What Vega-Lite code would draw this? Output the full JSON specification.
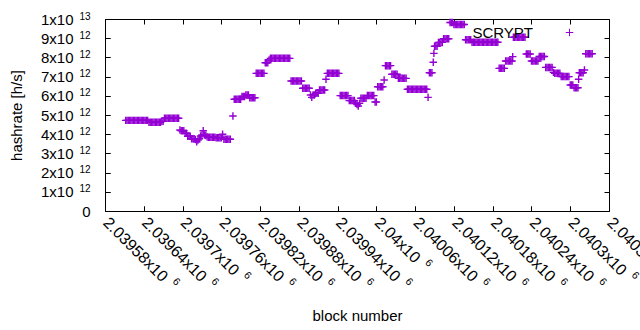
{
 "$schema": "https://vega.github.io/schema/vega-lite/v6.json",
 "width": 504, "height": 192,
 "autosize": "none",
 "padding": {"left": 105, "top": 19, "right": 31, "bottom": 119},
 "background": "white",
 "config": {
  "font": "Liberation Sans",
  "view": {"stroke": "black", "strokeWidth": 1},
  "axis": {"grid": false, "domain": false, "labelFontSize": 15, "titleFontSize": 15, "titleFontWeight": "normal", "labelColor": "black", "titleColor": "black", "tickColor": "black", "labelFont": "Liberation Sans", "titleFont": "Liberation Sans"},
  "legend": {"labelFont": "Liberation Sans"}
 },
 "data": {"values": [
  {"b":2039612,"h":4.72e12},{"b":2039614,"h":4.72e12},{"b":2039616,"h":4.72e12},{"b":2039618,"h":4.72e12},{"b":2039620,"h":4.72e12},{"b":2039622,"h":4.72e12},{"b":2039624,"h":4.72e12},{"b":2039626,"h":4.72e12},{"b":2039628,"h":4.72e12},{"b":2039630,"h":4.72e12},{"b":2039632,"h":4.72e12},{"b":2039634,"h":4.72e12},{"b":2039636,"h":4.72e12},{"b":2039638,"h":4.72e12},{"b":2039640,"h":4.72e12},{"b":2039642,"h":4.72e12},{"b":2039644,"h":4.72e12},{"b":2039646,"h":4.72e12},
  {"b":2039648,"h":4.62e12},{"b":2039650,"h":4.62e12},{"b":2039652,"h":4.62e12},{"b":2039654,"h":4.62e12},{"b":2039656,"h":4.62e12},{"b":2039658,"h":4.62e12},{"b":2039660,"h":4.62e12},{"b":2039662,"h":4.62e12},{"b":2039664,"h":4.62e12},{"b":2039666,"h":4.62e12},
  {"b":2039668,"h":4.67e12},{"b":2039670,"h":4.67e12},
  {"b":2039672,"h":4.83e12},{"b":2039674,"h":4.83e12},{"b":2039676,"h":4.83e12},{"b":2039678,"h":4.83e12},{"b":2039680,"h":4.83e12},{"b":2039682,"h":4.83e12},{"b":2039684,"h":4.83e12},{"b":2039686,"h":4.83e12},{"b":2039688,"h":4.83e12},{"b":2039690,"h":4.83e12},{"b":2039692,"h":4.83e12},{"b":2039694,"h":4.83e12},
  {"b":2039696,"h":4.22e12},{"b":2039698,"h":4.18e12},{"b":2039700,"h":4.18e12},{"b":2039702,"h":4.18e12},{"b":2039704,"h":4.05e12},{"b":2039706,"h":4.05e12},{"b":2039708,"h":3.89e12},{"b":2039710,"h":3.89e12},{"b":2039712,"h":3.89e12},{"b":2039714,"h":3.76e12},{"b":2039716,"h":3.76e12},{"b":2039718,"h":3.76e12},{"b":2039720,"h":3.72e12},{"b":2039722,"h":3.61e12},{"b":2039724,"h":3.70e12},{"b":2039726,"h":3.76e12},{"b":2039728,"h":3.91e12},{"b":2039730,"h":3.96e12},{"b":2039732,"h":4.18e12},{"b":2039734,"h":3.96e12},{"b":2039736,"h":3.93e12},{"b":2039738,"h":3.87e12},{"b":2039740,"h":3.84e12},{"b":2039742,"h":3.84e12},{"b":2039744,"h":3.84e12},{"b":2039746,"h":3.84e12},{"b":2039748,"h":3.84e12},{"b":2039750,"h":3.84e12},{"b":2039752,"h":3.81e12},{"b":2039754,"h":3.81e12},{"b":2039756,"h":3.81e12},{"b":2039758,"h":3.81e12},{"b":2039760,"h":3.81e12},{"b":2039762,"h":4.00e12},{"b":2039764,"h":3.74e12},{"b":2039766,"h":3.74e12},{"b":2039768,"h":3.74e12},{"b":2039770,"h":3.74e12},{"b":2039772,"h":3.74e12},{"b":2039774,"h":3.74e12},
  {"b":2039778,"h":4.95e12},
  {"b":2039780,"h":5.82e12},{"b":2039782,"h":5.82e12},{"b":2039784,"h":5.82e12},{"b":2039786,"h":5.82e12},{"b":2039788,"h":5.82e12},{"b":2039790,"h":5.82e12},
  {"b":2039792,"h":5.96e12},{"b":2039794,"h":5.96e12},{"b":2039796,"h":5.96e12},
  {"b":2039798,"h":6.04e12},{"b":2039800,"h":6.04e12},{"b":2039802,"h":6.04e12},
  {"b":2039804,"h":5.90e12},{"b":2039806,"h":5.90e12},{"b":2039808,"h":5.90e12},{"b":2039810,"h":5.90e12},{"b":2039812,"h":5.90e12},
  {"b":2039814,"h":7.17e12},{"b":2039816,"h":7.17e12},{"b":2039818,"h":7.17e12},{"b":2039820,"h":7.17e12},{"b":2039822,"h":7.17e12},{"b":2039824,"h":7.17e12},{"b":2039826,"h":7.17e12},
  {"b":2039828,"h":7.72e12},{"b":2039830,"h":7.72e12},{"b":2039832,"h":7.72e12},{"b":2039834,"h":7.86e12},
  {"b":2039836,"h":7.95e12},{"b":2039838,"h":7.95e12},{"b":2039840,"h":7.95e12},{"b":2039842,"h":7.95e12},{"b":2039844,"h":7.95e12},{"b":2039846,"h":7.95e12},{"b":2039848,"h":7.95e12},{"b":2039850,"h":7.95e12},{"b":2039852,"h":7.95e12},{"b":2039854,"h":7.95e12},{"b":2039856,"h":7.95e12},{"b":2039858,"h":7.95e12},{"b":2039860,"h":7.95e12},{"b":2039862,"h":7.95e12},{"b":2039864,"h":7.95e12},{"b":2039866,"h":7.95e12},
  {"b":2039868,"h":6.77e12},{"b":2039870,"h":6.77e12},{"b":2039872,"h":6.77e12},{"b":2039874,"h":6.77e12},{"b":2039876,"h":6.77e12},{"b":2039878,"h":6.77e12},{"b":2039880,"h":6.77e12},{"b":2039882,"h":6.77e12},{"b":2039884,"h":6.77e12},
  {"b":2039886,"h":6.39e12},{"b":2039888,"h":6.39e12},{"b":2039890,"h":6.39e12},{"b":2039892,"h":6.39e12},{"b":2039894,"h":6.39e12},{"b":2039896,"h":6.39e12},
  {"b":2039898,"h":6.04e12},{"b":2039900,"h":5.92e12},{"b":2039902,"h":6.04e12},{"b":2039904,"h":6.04e12},
  {"b":2039906,"h":6.13e12},{"b":2039908,"h":6.13e12},{"b":2039910,"h":6.13e12},
  {"b":2039912,"h":6.30e12},{"b":2039914,"h":6.30e12},{"b":2039916,"h":6.30e12},{"b":2039918,"h":6.30e12},{"b":2039920,"h":6.30e12},
  {"b":2039922,"h":6.86e12},
  {"b":2039924,"h":7.17e12},{"b":2039926,"h":7.17e12},{"b":2039928,"h":7.17e12},{"b":2039930,"h":7.17e12},{"b":2039932,"h":7.17e12},{"b":2039934,"h":7.17e12},{"b":2039936,"h":7.17e12},{"b":2039938,"h":7.17e12},{"b":2039940,"h":7.17e12},{"b":2039942,"h":7.17e12},
  {"b":2039944,"h":6.01e12},{"b":2039946,"h":6.01e12},{"b":2039948,"h":6.01e12},{"b":2039950,"h":6.01e12},{"b":2039952,"h":6.01e12},{"b":2039954,"h":6.01e12},{"b":2039956,"h":6.01e12},
  {"b":2039958,"h":5.75e12},{"b":2039960,"h":5.75e12},{"b":2039962,"h":5.75e12},{"b":2039964,"h":5.75e12},{"b":2039966,"h":5.75e12},
  {"b":2039968,"h":5.61e12},{"b":2039970,"h":5.55e12},{"b":2039972,"h":5.47e12},{"b":2039974,"h":5.61e12},
  {"b":2039976,"h":5.87e12},{"b":2039978,"h":5.87e12},{"b":2039980,"h":5.87e12},{"b":2039982,"h":5.87e12},{"b":2039984,"h":5.87e12},
  {"b":2039986,"h":6.01e12},{"b":2039988,"h":6.01e12},{"b":2039990,"h":6.01e12},{"b":2039992,"h":6.01e12},{"b":2039994,"h":6.01e12},{"b":2039996,"h":6.01e12},
  {"b":2039998,"h":5.68e12},{"b":2040000,"h":5.68e12},
  {"b":2040002,"h":6.47e12},{"b":2040004,"h":6.47e12},{"b":2040006,"h":6.47e12},{"b":2040008,"h":6.47e12},{"b":2040010,"h":6.47e12},
  {"b":2040012,"h":6.82e12},
  {"b":2040014,"h":7.57e12},{"b":2040016,"h":7.57e12},{"b":2040018,"h":7.57e12},{"b":2040020,"h":7.57e12},{"b":2040022,"h":7.57e12},
  {"b":2040024,"h":7.12e12},{"b":2040026,"h":7.12e12},{"b":2040028,"h":7.12e12},{"b":2040030,"h":7.12e12},{"b":2040032,"h":7.12e12},
  {"b":2040034,"h":6.91e12},{"b":2040036,"h":6.91e12},{"b":2040038,"h":6.91e12},{"b":2040040,"h":6.91e12},{"b":2040042,"h":6.91e12},{"b":2040044,"h":6.91e12},{"b":2040046,"h":6.91e12},
  {"b":2040048,"h":6.34e12},{"b":2040050,"h":6.34e12},{"b":2040052,"h":6.34e12},{"b":2040054,"h":6.34e12},{"b":2040056,"h":6.34e12},{"b":2040058,"h":6.34e12},{"b":2040060,"h":6.34e12},{"b":2040062,"h":6.34e12},{"b":2040064,"h":6.34e12},{"b":2040066,"h":6.34e12},{"b":2040068,"h":6.34e12},{"b":2040070,"h":6.34e12},{"b":2040072,"h":6.34e12},{"b":2040074,"h":6.34e12},{"b":2040076,"h":6.34e12},{"b":2040078,"h":6.34e12},
  {"b":2040080,"h":5.92e12},
  {"b":2040082,"h":7.20e12},{"b":2040084,"h":7.20e12},{"b":2040086,"h":7.20e12},
  {"b":2040088,"h":7.75e12},{"b":2040089,"h":8.21e12},
  {"b":2040090,"h":8.58e12},{"b":2040092,"h":8.58e12},{"b":2040094,"h":8.58e12},
  {"b":2040096,"h":8.78e12},{"b":2040098,"h":8.78e12},{"b":2040100,"h":8.78e12},{"b":2040102,"h":8.78e12},
  {"b":2040104,"h":8.97e12},{"b":2040106,"h":8.97e12},{"b":2040108,"h":8.97e12},{"b":2040110,"h":8.97e12},{"b":2040112,"h":8.97e12},
  {"b":2040114,"h":9.82e12},{"b":2040116,"h":9.82e12},{"b":2040118,"h":9.82e12},
  {"b":2040120,"h":9.71e12},{"b":2040122,"h":9.71e12},{"b":2040124,"h":9.71e12},{"b":2040126,"h":9.71e12},{"b":2040128,"h":9.71e12},{"b":2040130,"h":9.71e12},{"b":2040132,"h":9.71e12},{"b":2040134,"h":9.71e12},{"b":2040136,"h":9.71e12},
  {"b":2040138,"h":8.92e12},{"b":2040140,"h":8.92e12},{"b":2040142,"h":8.92e12},{"b":2040144,"h":8.92e12},{"b":2040146,"h":8.92e12},
  {"b":2040148,"h":8.79e12},{"b":2040150,"h":8.79e12},{"b":2040152,"h":8.79e12},{"b":2040154,"h":8.79e12},{"b":2040156,"h":8.79e12},{"b":2040158,"h":8.79e12},{"b":2040160,"h":8.79e12},{"b":2040162,"h":8.79e12},{"b":2040164,"h":8.79e12},{"b":2040166,"h":8.79e12},{"b":2040168,"h":8.79e12},{"b":2040170,"h":8.79e12},{"b":2040172,"h":8.79e12},{"b":2040174,"h":8.79e12},{"b":2040176,"h":8.79e12},{"b":2040178,"h":8.79e12},{"b":2040180,"h":8.79e12},{"b":2040182,"h":8.79e12},{"b":2040184,"h":8.79e12},{"b":2040186,"h":8.79e12},{"b":2040188,"h":8.79e12},
  {"b":2040190,"h":7.43e12},{"b":2040192,"h":7.43e12},{"b":2040194,"h":7.43e12},{"b":2040196,"h":7.43e12},{"b":2040198,"h":7.43e12},
  {"b":2040200,"h":7.81e12},{"b":2040202,"h":7.81e12},{"b":2040204,"h":7.81e12},{"b":2040206,"h":7.81e12},{"b":2040208,"h":7.81e12},{"b":2040210,"h":7.81e12},
  {"b":2040211,"h":8.04e12},
  {"b":2040212,"h":9.05e12},{"b":2040214,"h":9.05e12},{"b":2040216,"h":9.05e12},{"b":2040218,"h":9.05e12},{"b":2040220,"h":9.05e12},{"b":2040222,"h":9.05e12},{"b":2040224,"h":9.05e12},{"b":2040226,"h":9.05e12},{"b":2040228,"h":9.05e12},{"b":2040230,"h":9.05e12},
  {"b":2040232,"h":8.18e12},{"b":2040234,"h":8.18e12},{"b":2040236,"h":8.18e12},{"b":2040238,"h":8.18e12},
  {"b":2040240,"h":7.81e12},{"b":2040242,"h":7.81e12},{"b":2040244,"h":7.81e12},{"b":2040246,"h":7.81e12},{"b":2040248,"h":7.81e12},{"b":2040250,"h":7.81e12},
  {"b":2040252,"h":8.05e12},{"b":2040254,"h":8.05e12},{"b":2040256,"h":8.05e12},{"b":2040258,"h":8.05e12},{"b":2040260,"h":8.05e12},
  {"b":2040262,"h":7.48e12},{"b":2040264,"h":7.48e12},{"b":2040266,"h":7.48e12},{"b":2040268,"h":7.48e12},{"b":2040270,"h":7.48e12},{"b":2040272,"h":7.48e12},
  {"b":2040274,"h":7.22e12},
  {"b":2040276,"h":7.17e12},{"b":2040278,"h":7.17e12},{"b":2040280,"h":7.17e12},{"b":2040282,"h":7.17e12},{"b":2040284,"h":7.17e12},
  {"b":2040286,"h":7.00e12},{"b":2040288,"h":7.00e12},{"b":2040290,"h":7.00e12},{"b":2040292,"h":7.00e12},{"b":2040294,"h":7.00e12},{"b":2040296,"h":7.00e12},{"b":2040298,"h":7.00e12},
  {"b":2040300,"h":6.56e12},{"b":2040302,"h":6.56e12},{"b":2040304,"h":6.56e12},
  {"b":2040306,"h":6.42e12},{"b":2040308,"h":6.42e12},{"b":2040310,"h":6.42e12},{"b":2040312,"h":6.42e12},
  {"b":2040313,"h":6.86e12},
  {"b":2040314,"h":7.20e12},{"b":2040316,"h":7.20e12},{"b":2040318,"h":7.20e12},{"b":2040320,"h":7.20e12},{"b":2040322,"h":7.34e12},
  {"b":2040324,"h":8.19e12},{"b":2040326,"h":8.19e12},{"b":2040328,"h":8.19e12},{"b":2040330,"h":8.19e12},{"b":2040332,"h":8.19e12},{"b":2040334,"h":8.19e12}
 ]},
 "layer": [
  {
   "mark": {"type": "point", "shape": "M-1,0L1,0M0,-1L0,1", "size": 56, "filled": false, "strokeWidth": 1.4, "opacity": 1},
   "encoding": {
    "x": {"field": "b", "type": "quantitative", "scale": {"domain": [2039580, 2040360], "nice": false, "zero": false},
     "axis": {"orient": "bottom", "title": "block number", "values": [2039580,2039640,2039700,2039760,2039820,2039880,2039940,2040000,2040060,2040120,2040180,2040240,2040300,2040360],
      "labelExpr": "datum.value/1000000 + 'x10'", "labelFontSize": 16, "labelAngle": 45, "labelAlign": "left", "labelBaseline": "top", "labelPadding": 8, "labelOffset": 6, "tickSize": -5,
      "labelOverlap": false, "labelFlush": false, "labelBound": false, "titleY": 104, "titleBaseline": "middle"}},
    "y": {"field": "h", "type": "quantitative", "scale": {"domain": [0, 10000000000000], "nice": false, "zero": true},
     "axis": {"orient": "left", "title": "hashrate [h/s]", "values": [0,1e12,2e12,3e12,4e12,5e12,6e12,7e12,8e12,9e12,1e13],
      "labelExpr": "datum.value == 0 ? '0' : (datum.value >= 10000000000000 ? '1x10' : (datum.value/1000000000000) + 'x10')",
      "tickSize": -5, "labelPadding": {"condition": {"test": "datum.value == 0", "value": 20}, "value": 37},
      "titleX": -89, "titleY": 96, "titleAngle": -90, "titleAlign": "center", "titleBaseline": "middle"}},
    "color": {"datum": "SCRYPT", "type": "nominal", "scale": {"range": ["#9400d3"]},
     "legend": {"title": null, "orient": "none", "legendX": 457, "legendY": 6, "symbolType": "M-1,0L1,0M0,-1L0,1", "symbolSize": 56, "symbolStrokeWidth": 1, "labelFontSize": 15, "labelAlign": "right", "labelOffset": -44, "padding": 0, "labelColor": "black"}}
   }
  },
  {
   "mark": {"type": "point", "opacity": 0},
   "encoding": {
    "x": {"field": "b", "type": "quantitative", "axis": {"orient": "top", "labels": false, "title": null, "tickSize": -5, "values": [2039580,2039640,2039700,2039760,2039820,2039880,2039940,2040000,2040060,2040120,2040180,2040240,2040300,2040360]}},
    "y": {"field": "h", "type": "quantitative", "axis": {"orient": "right", "labels": false, "title": null, "tickSize": -5, "values": [0,1e12,2e12,3e12,4e12,5e12,6e12,7e12,8e12,9e12,1e13]}}
   }
  },
  {
   "mark": {"type": "point", "opacity": 0},
   "encoding": {
    "x": {"field": "b", "type": "quantitative", "axis": {"orient": "bottom", "title": null, "tickSize": -5, "values": [2039580,2039640,2039700,2039760,2039820,2039880,2039940,2040000,2040060,2040120,2040180,2040240,2040300,2040360],
      "labelExpr": "'6'", "labelFontSize": 10.5, "labelAngle": 45, "labelAlign": "left", "labelBaseline": "top",
      "labelOffset": {"condition": [{"test": "datum.value == 2040000", "value": 53.3}, {"test": "datum.value == 2039700 || datum.value == 2040300", "value": 65.9}], "value": 72.2},
      "labelPadding": {"condition": [{"test": "datum.value == 2040000", "value": 51.1}, {"test": "datum.value == 2039700 || datum.value == 2040300", "value": 63.6}], "value": 69.9},
      "labelOverlap": false, "labelFlush": false, "labelBound": false}},
    "y": {"field": "h", "type": "quantitative", "axis": {"orient": "left", "title": null, "tickSize": -5, "values": [1e12,2e12,3e12,4e12,5e12,6e12,7e12,8e12,9e12,1e13],
      "labelExpr": "datum.value >= 10000000000000 ? '13' : '12'", "labelFontSize": 10, "labelAlign": "left", "labelBaseline": "alphabetic", "labelPadding": 31,
      "encode": {"labels": {"update": {"dy": {"value": -2}}}}}}
   }
  }
 ],
 "resolve": {"axis": {"x": "independent", "y": "independent"}}
}
